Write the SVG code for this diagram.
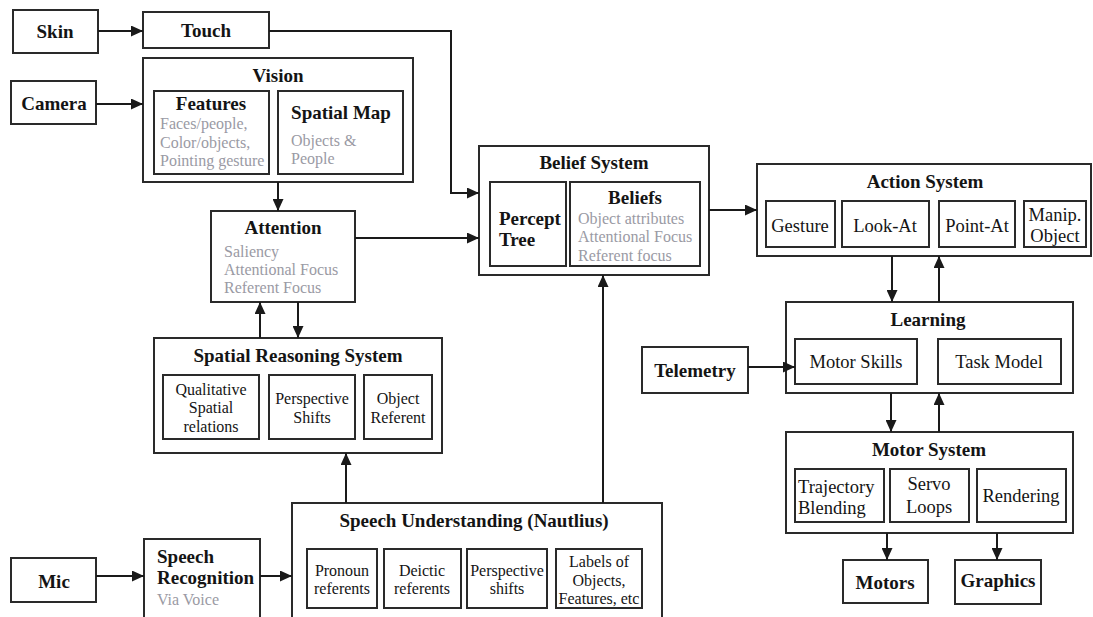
<svg xmlns="http://www.w3.org/2000/svg" width="1093" height="617" viewBox="0 0 1093 617">
<defs>
<marker id="ah" markerUnits="userSpaceOnUse" markerWidth="13" markerHeight="11" refX="12" refY="5.5" orient="auto">
<path d="M0,0 L12,5.5 L0,11 z" fill="#1a1a1a"/>
</marker>
<style>
rect{fill:#fff;stroke:#2a2a2a;stroke-width:2}
text{font-family:"Liberation Serif","Times New Roman",serif;fill:#141414}
.t{font-weight:bold;font-size:19px;text-anchor:middle}
.tl{font-weight:bold;font-size:19px}
.g{font-size:16px;fill:#9a9aa4}
.n{font-size:16px;text-anchor:middle}
.m{font-size:18.5px;text-anchor:middle}
.c line,.c polyline{stroke:#1a1a1a;stroke-width:2;fill:none;marker-end:url(#ah)}
</style>
</defs>
<rect x="0" y="0" width="1093" height="617" style="fill:#fff;stroke:none"/>

<g id="skin"><rect x="13" y="10" width="85" height="43"/><text class="t" x="55" y="38">Skin</text></g>
<g id="touch"><rect x="143" y="12" width="126" height="36"/><text class="t" x="206" y="37">Touch</text></g>
<g id="camera"><rect x="11" y="81" width="85" height="43"/><text class="t" x="54" y="110">Camera</text></g>

<g id="vision">
<rect x="143" y="58" width="270" height="124"/>
<text class="t" x="278" y="82">Vision</text>
<rect x="154" y="91" width="115" height="83"/>
<text class="t" x="211" y="110">Features</text>
<text class="g" x="160" y="129">Faces/people,</text>
<text class="g" x="160" y="148">Color/objects,</text>
<text class="g" x="160" y="166">Pointing gesture</text>
<rect x="278" y="91" width="125" height="83"/>
<text class="t" x="341" y="119">Spatial Map</text>
<text class="g" x="291" y="146">Objects &amp;</text>
<text class="g" x="291" y="164">People</text>
</g>

<g id="attention">
<rect x="211" y="211" width="144" height="91"/>
<text class="t" x="283" y="234">Attention</text>
<text class="g" x="224" y="257">Saliency</text>
<text class="g" x="224" y="275">Attentional Focus</text>
<text class="g" x="224" y="293">Referent Focus</text>
</g>

<g id="spatial-reasoning">
<rect x="154" y="338" width="288" height="115"/>
<text class="t" x="298" y="362">Spatial Reasoning System</text>
<rect x="163" y="375" width="96" height="64"/>
<text class="n" x="211" y="395">Qualitative</text>
<text class="n" x="211" y="413">Spatial</text>
<text class="n" x="211" y="432">relations</text>
<rect x="269" y="375" width="86" height="64"/>
<text class="n" x="312" y="404">Perspective</text>
<text class="n" x="312" y="423">Shifts</text>
<rect x="364" y="375" width="68" height="64"/>
<text class="n" x="398" y="404">Object</text>
<text class="n" x="398" y="423">Referent</text>
</g>

<g id="belief-system">
<rect x="479" y="146" width="230" height="129"/>
<text class="t" x="594" y="169">Belief System</text>
<rect x="490" y="182" width="76" height="84"/>
<text class="tl" x="499" y="225">Percept</text>
<text class="tl" x="499" y="246">Tree</text>
<rect x="570" y="182" width="130" height="84"/>
<text class="t" x="635" y="204">Beliefs</text>
<text class="g" x="578" y="224">Object attributes</text>
<text class="g" x="578" y="242">Attentional Focus</text>
<text class="g" x="578" y="261">Referent focus</text>
</g>

<g id="action-system">
<rect x="757" y="164" width="334" height="92"/>
<text class="t" x="925" y="188">Action System</text>
<rect x="766" y="201" width="69" height="46"/>
<text class="m" x="800" y="232">Gesture</text>
<rect x="842" y="201" width="87" height="46"/>
<text class="m" x="885" y="232">Look-At</text>
<rect x="939" y="201" width="76" height="46"/>
<text class="m" x="977" y="232">Point-At</text>
<rect x="1024" y="201" width="62" height="46"/>
<text class="m" x="1055" y="221">Manip.</text>
<text class="m" x="1055" y="242">Object</text>
</g>

<g id="learning">
<rect x="786" y="302" width="287" height="91"/>
<text class="t" x="928" y="326">Learning</text>
<rect x="795" y="339" width="122" height="45"/>
<text class="m" x="856" y="368">Motor Skills</text>
<rect x="938" y="339" width="123" height="45"/>
<text class="m" x="999" y="368">Task Model</text>
</g>

<g id="telemetry"><rect x="642" y="347" width="106" height="46"/><text class="t" x="695" y="377">Telemetry</text></g>

<g id="motor-system">
<rect x="786" y="432" width="287" height="101"/>
<text class="t" x="929" y="456">Motor System</text>
<rect x="795" y="469" width="89" height="53"/>
<text style="font-size:18.5px" x="798" y="493">Trajectory</text>
<text style="font-size:18.5px" x="798" y="514">Blending</text>
<rect x="890" y="469" width="79" height="53"/>
<text class="m" x="929" y="490">Servo</text>
<text class="m" x="929" y="513">Loops</text>
<rect x="977" y="469" width="89" height="53"/>
<text class="m" x="1021" y="502">Rendering</text>
</g>

<g id="motors"><rect x="843" y="560" width="85" height="43"/><text class="t" x="885" y="589">Motors</text></g>
<g id="graphics"><rect x="955" y="560" width="86" height="44"/><text class="t" x="998" y="587">Graphics</text></g>

<g id="mic"><rect x="11" y="558" width="85" height="44"/><text class="t" x="54" y="588">Mic</text></g>

<g id="speech-recognition">
<rect x="144" y="539" width="116" height="90"/>
<text class="tl" x="157" y="563">Speech</text>
<text class="tl" x="157" y="584">Recognition</text>
<text class="g" x="157" y="605">Via Voice</text>
</g>

<g id="speech-understanding">
<rect x="292" y="503" width="370" height="130"/>
<text class="t" x="474" y="527">Speech Understanding (Nautlius)</text>
<rect x="307" y="549" width="70" height="59"/>
<text class="n" x="342" y="576">Pronoun</text>
<text class="n" x="342" y="594">referents</text>
<rect x="384" y="549" width="77" height="59"/>
<text class="n" x="422" y="576">Deictic</text>
<text class="n" x="422" y="594">referents</text>
<rect x="467" y="549" width="80" height="59"/>
<text class="n" x="507" y="576">Perspective</text>
<text class="n" x="507" y="594">shifts</text>
<rect x="556" y="549" width="86" height="59"/>
<text class="n" x="599" y="567">Labels of</text>
<text class="n" x="599" y="586">Objects,</text>
<text class="n" x="599" y="604">Features, etc</text>
</g>

<g id="connectors" class="c">
<line x1="98" y1="31" x2="143" y2="31"/>
<polyline points="269,31 451,31 451,193 479,193"/>
<line x1="96" y1="104" x2="143" y2="104"/>
<line x1="278" y1="182" x2="278" y2="211"/>
<line x1="355" y1="238" x2="479" y2="238"/>
<line x1="260" y1="338" x2="260" y2="302"/>
<line x1="298" y1="302" x2="298" y2="338"/>
<line x1="709" y1="210" x2="757" y2="210"/>
<line x1="892" y1="256" x2="892" y2="302"/>
<line x1="939" y1="302" x2="939" y2="256"/>
<line x1="748" y1="367" x2="795" y2="367"/>
<line x1="891" y1="393" x2="891" y2="432"/>
<line x1="939" y1="432" x2="939" y2="393"/>
<line x1="887" y1="533" x2="887" y2="560"/>
<line x1="997" y1="533" x2="997" y2="560"/>
<line x1="96" y1="576" x2="144" y2="576"/>
<line x1="260" y1="576" x2="292" y2="576"/>
<line x1="346" y1="503" x2="346" y2="453"/>
<line x1="603" y1="503" x2="603" y2="275"/>
</g>
</svg>
